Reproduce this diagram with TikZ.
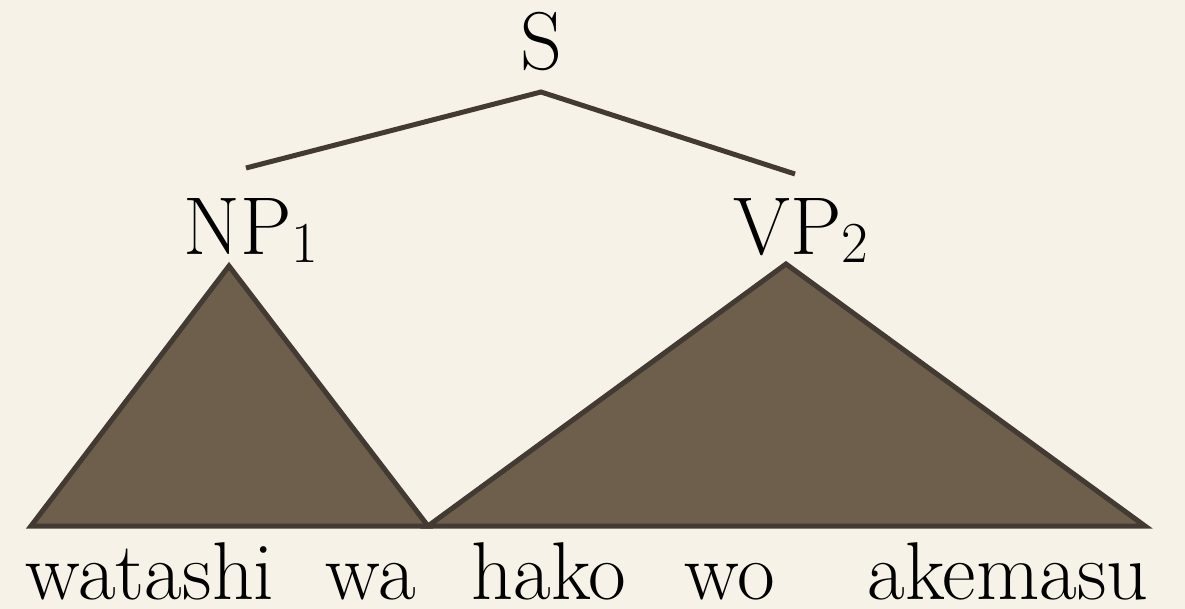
\documentclass[tikz,border=0pt]{standalone}
\definecolor{PaperColor}{RGB}{246,242,231}
\definecolor{BranchColor}{RGB}{66,58,51}
\definecolor{TreeBrown}{RGB}{110,94,76}
\usepackage{tikz}
\usetikzlibrary{positioning, calc}
\newcommand{\catsub}[1]{\raisebox{-0.09em}{\fontsize{58}{60}\selectfont #1}}
\tikzset{
  treetext/.style={font=\fontsize{82}{90}\selectfont, inner sep=0pt, anchor=base},
  branch/.style={line width=5pt, BranchColor},
  subtree/.style={fill=TreeBrown, draw=BranchColor, line width=5pt, line join=miter},
}

\begin{document}
\begin{tikzpicture}[x=1pt, y=-1pt]
  \fill[PaperColor] (0,0) rectangle (1185,609);
  \useasboundingbox (0,0) rectangle (1185,609);
  % category labels
  \node[treetext] (S) at (541,70) {S};
  \node[treetext] (np) at (251,255) {NP\catsub{1}};
  \node[treetext] (vp) at (801,255) {VP\catsub{2}};
  % branches from the root
  \coordinate (sRoot) at (541,92);
  \coordinate (npTop) at (246,168);
  \coordinate (vpTop) at (795,174);
  \draw[branch] (npTop) -- (sRoot) -- (vpTop);
  % collapsed subtrees
  \coordinate (npApex) at (229,266);
  \coordinate (vpApex) at (786,264);
  \coordinate (baseLeft) at (31,526);
  \coordinate (baseMid) at (428,526);
  \coordinate (baseRight) at (1145,526);
  \draw[subtree] (npApex) -- (baseLeft) -- (baseMid) -- cycle;
  \draw[subtree] (vpApex) -- (baseMid) -- (baseRight) -- cycle;
  % words
  \node[treetext] (w1) at (150,599) {watashi};
  \node[treetext] (w2) at (371,599) {wa};
  \node[treetext] (w3) at (549,599) {hako};
  \node[treetext] (w4) at (730,599) {wo};
  \node[treetext] (w5) at (1008,599) {akemasu};
\end{tikzpicture}
\end{document}
